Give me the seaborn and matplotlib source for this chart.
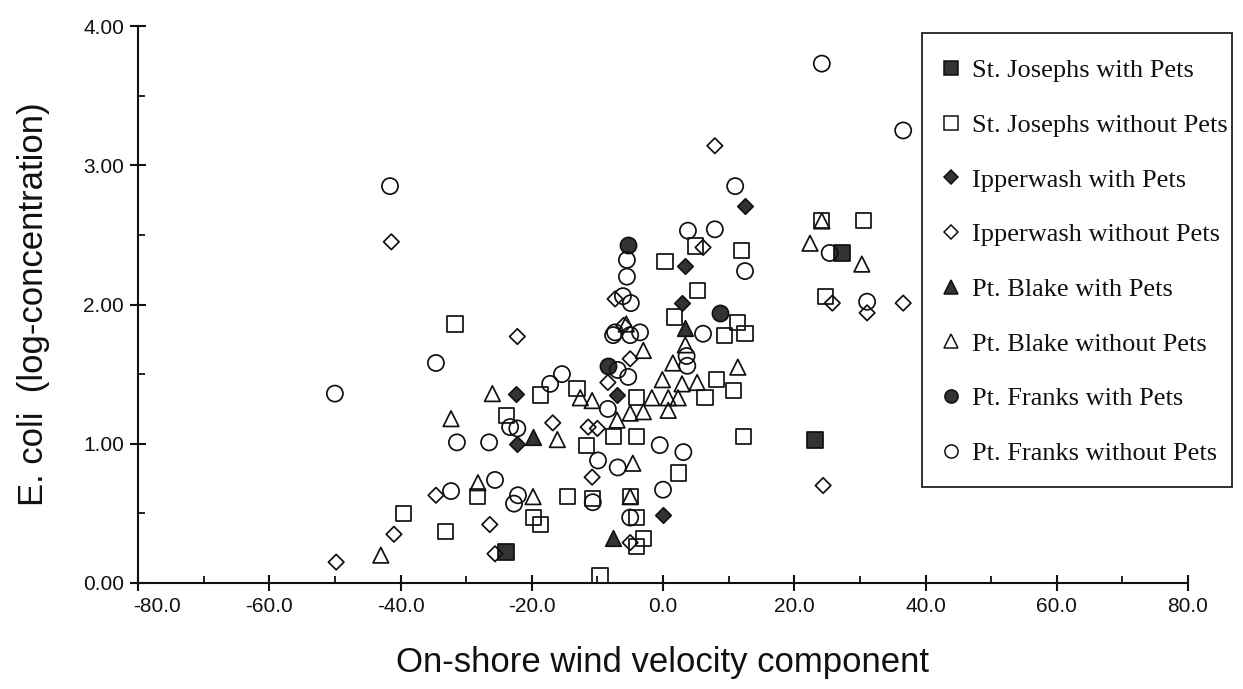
import matplotlib
matplotlib.use("Agg")
import matplotlib.pyplot as plt
import matplotlib.transforms as mtransforms
import seaborn as sns
import pandas as pd
from matplotlib.lines import Line2D
from matplotlib.patches import Rectangle
from matplotlib.ticker import MultipleLocator, FormatStrFormatter

# ---------------- data ----------------
series_names = [
    "St. Josephs with Pets", "St. Josephs without Pets",
    "Ipperwash with Pets", "Ipperwash without Pets",
    "Pt. Blake with Pets", "Pt. Blake without Pets",
    "Pt. Franks with Pets", "Pt. Franks without Pets",
]

stjo_pets_x = [-23.9, 27.3, 23.2]
stjo_pets_y = [0.22, 2.37, 1.03]

stjo_nopets_x = [-31.7, -18.7, -23.8, -28.2, -14.6, -19.7, -18.7, -33.2, -39.5, -13.1,
                 -4.0, -7.6, -4.0, -11.6, -10.8, -5.0, -4.0, -3.0, -4.0, -9.6,
                 2.3, 12.2, 8.2, 10.7, 6.4, 9.4, 12.5, 11.3, 1.8, 5.3,
                 0.3, 12.0, 4.9, 24.2, 30.5, 24.7]
stjo_nopets_y = [1.86, 1.35, 1.20, 0.62, 0.62, 0.47, 0.42, 0.37, 0.50, 1.40,
                 1.33, 1.05, 1.05, 0.99, 0.61, 0.62, 0.47, 0.32, 0.26, 0.05,
                 0.79, 1.05, 1.46, 1.38, 1.33, 1.78, 1.79, 1.87, 1.91, 2.10,
                 2.31, 2.39, 2.42, 2.60, 2.60, 2.06]

ipp_pets_x = [-22.4, -22.2, -7.0, 0.0, 12.5, 3.4, 2.9]
ipp_pets_y = [1.36, 1.00, 1.35, 0.49, 2.71, 2.28, 2.01]

ipp_nopets_x = [-41.4, -49.8, -41.0, -22.2, -16.8, -34.6, -26.4, -25.6, -7.3, -5.0,
                -8.4, -11.4, -10.0, -5.0, -10.8, 7.9, 6.1, 25.8, 31.1, 36.6,
                24.4, -6.0]
ipp_nopets_y = [2.45, 0.15, 0.35, 1.77, 1.15, 0.63, 0.42, 0.21, 2.04, 1.61,
                1.44, 1.12, 1.11, 0.29, 0.76, 3.14, 2.41, 2.01, 1.94, 2.01,
                0.70, 1.85]

blake_pets_x = [-19.8, -7.6, 3.4]
blake_pets_y = [1.05, 0.32, 1.83]

blake_nopets_x = [-43.0, -32.3, -26.0, -16.1, -28.2, -19.8, -12.6, -10.8, -5.0, -3.0,
                  -1.7, -7.0, -5.6, -3.0, -4.6, -5.0, 3.4, 1.5, 5.2, -0.1,
                  2.9, 0.8, 2.3, 0.8, 11.4, 24.2, 22.4, 30.3]
blake_nopets_y = [0.20, 1.18, 1.36, 1.03, 0.72, 0.62, 1.33, 1.31, 1.22, 1.23,
                  1.33, 1.17, 1.86, 1.67, 0.86, 0.62, 1.71, 1.58, 1.44, 1.46,
                  1.43, 1.33, 1.33, 1.24, 1.55, 2.60, 2.44, 2.29]

franks_pets_x = [-5.3, -8.4, 8.7]
franks_pets_y = [2.43, 1.56, 1.94]

franks_nopets_x = [-41.6, -50.0, -34.6, -31.4, -26.5, -17.2, -15.4, -23.3, -22.2, -25.6,
                   -32.3, -22.1, -22.7, -5.5, -5.5, -4.9, -6.1, -7.3, -3.5, -7.6,
                   -5.0, -6.9, -5.3, -8.4, -9.9, -6.9, -10.7, -5.0, -0.5, 3.1,
                   0.0, 3.6, 3.7, 6.1, 11.0, 3.8, 7.9, 12.5, 24.2, 36.6,
                   25.4, 31.1]
franks_nopets_y = [2.85, 1.36, 1.58, 1.01, 1.01, 1.43, 1.50, 1.12, 1.11, 0.74,
                   0.66, 0.63, 0.57, 2.32, 2.20, 2.01, 2.06, 1.80, 1.80, 1.78,
                   1.78, 1.53, 1.48, 1.25, 0.88, 0.83, 0.58, 0.47, 0.99, 0.94,
                   0.67, 1.63, 1.56, 1.79, 2.85, 2.53, 2.54, 2.24, 3.73, 3.25,
                   2.37, 2.02]

x_ticks = [-80, -60, -40, -20, 0, 20, 40, 60, 80]
y_ticks = [0, 1, 2, 3, 4]

all_x = [stjo_pets_x, stjo_nopets_x, ipp_pets_x, ipp_nopets_x,
         blake_pets_x, blake_nopets_x, franks_pets_x, franks_nopets_x]
all_y = [stjo_pets_y, stjo_nopets_y, ipp_pets_y, ipp_nopets_y,
         blake_pets_y, blake_nopets_y, franks_pets_y, franks_nopets_y]

frames = []
for name, xs, ys in zip(series_names, all_x, all_y):
    frames.append(pd.DataFrame({"wind": xs, "ecoli": ys, "series": name}))
df = pd.concat(frames, ignore_index=True)

# ---------------- styling ----------------
DARK = "#333333"
styles = {
    "St. Josephs with Pets":    dict(marker="s", s=118, color=DARK),
    "St. Josephs without Pets": dict(marker="s", s=118, color="none"),
    "Ipperwash with Pets":      dict(marker="D", s=62, color=DARK),
    "Ipperwash without Pets":   dict(marker="D", s=62, color="none"),
    "Pt. Blake with Pets":      dict(marker="^", s=125, color=DARK),
    "Pt. Blake without Pets":   dict(marker="^", s=125, color="none"),
    "Pt. Franks with Pets":     dict(marker="o", s=135, color=DARK),
    "Pt. Franks without Pets":  dict(marker="o", s=135, color="none"),
}

sns.set_style("white")
plt.rcParams["font.family"] = ["Liberation Sans", "DejaVu Sans"]

W, H = 1243, 689
fig = plt.figure(figsize=(W / 100, H / 100), dpi=100)
ax = fig.add_axes([138 / W, 1 - 583 / H, (1188 - 138) / W, (583 - 26) / H])

for name in series_names:
    st = styles[name]
    sub = df[df["series"] == name]
    sns.scatterplot(data=sub, x="wind", y="ecoli", ax=ax, marker=st["marker"],
                    s=st["s"], color=st["color"], edgecolor="#111111",
                    linewidth=1.25, legend=False, zorder=3)

ax.set_xlim(-80, 80)
ax.set_ylim(0, 4)
ax.set_xticks(x_ticks)
ax.set_yticks(y_ticks)
ax.xaxis.set_minor_locator(MultipleLocator(10))
ax.yaxis.set_minor_locator(MultipleLocator(0.5))
ax.xaxis.set_major_formatter(FormatStrFormatter("%.1f"))
ax.yaxis.set_major_formatter(FormatStrFormatter("%.2f"))

for side in ["top", "right"]:
    ax.spines[side].set_visible(False)
for side in ["left", "bottom"]:
    ax.spines[side].set_color("#111111")
    ax.spines[side].set_linewidth(1.5)

ax.tick_params(which="major", direction="inout", length=12, width=1.5,
               color="#111111", labelsize=15, labelcolor="#111111", pad=4)
ax.tick_params(which="minor", direction="in", length=5, width=1.3, color="#111111")
ax.tick_params(axis="x", which="both", bottom=True)
ax.tick_params(axis="y", which="both", left=True)

ax.set_xlabel("On-shore wind velocity component", fontsize=25, color="#111111", labelpad=22)
ax.set_ylabel("E. coli  (log-concentration)", fontsize=25, color="#111111", labelpad=24)

fig.canvas.draw()
first = ax.get_xticklabels()[0]
first.set_transform(mtransforms.offset_copy(first.get_transform(), fig=fig,
                                            x=19, y=0, units="dots"))

# ---------------- legend ----------------
# frame drawn separately so its size can match the reference
fig.patches.append(Rectangle((922 / W, 1 - 487 / H), (1232 - 922) / W, (487 - 33) / H,
                             transform=fig.transFigure, facecolor="white",
                             edgecolor="#222222", linewidth=1.3, zorder=4))

handles = []
for name in series_names:
    st = styles[name]
    ms = 9.5 if st["marker"] != "D" else 7.0
    handles.append(Line2D([], [], linestyle="none", marker=st["marker"], markersize=ms,
                          markerfacecolor=st["color"], markeredgecolor="#111111",
                          markeredgewidth=1.1))
leg = fig.legend(handles, series_names, loc="upper left",
                 bbox_to_anchor=(945 / W, 1 - 59 / H),
                 prop={"family": ["Liberation Serif"], "size": 19},
                 frameon=False,
                 labelspacing=1.18, handlelength=0.45, handletextpad=0.57,
                 borderpad=0, borderaxespad=0)
leg.set_zorder(5)
for t in leg.get_texts():
    t.set_color("#111111")

fig.savefig("out.png", dpi=100, facecolor="white")
